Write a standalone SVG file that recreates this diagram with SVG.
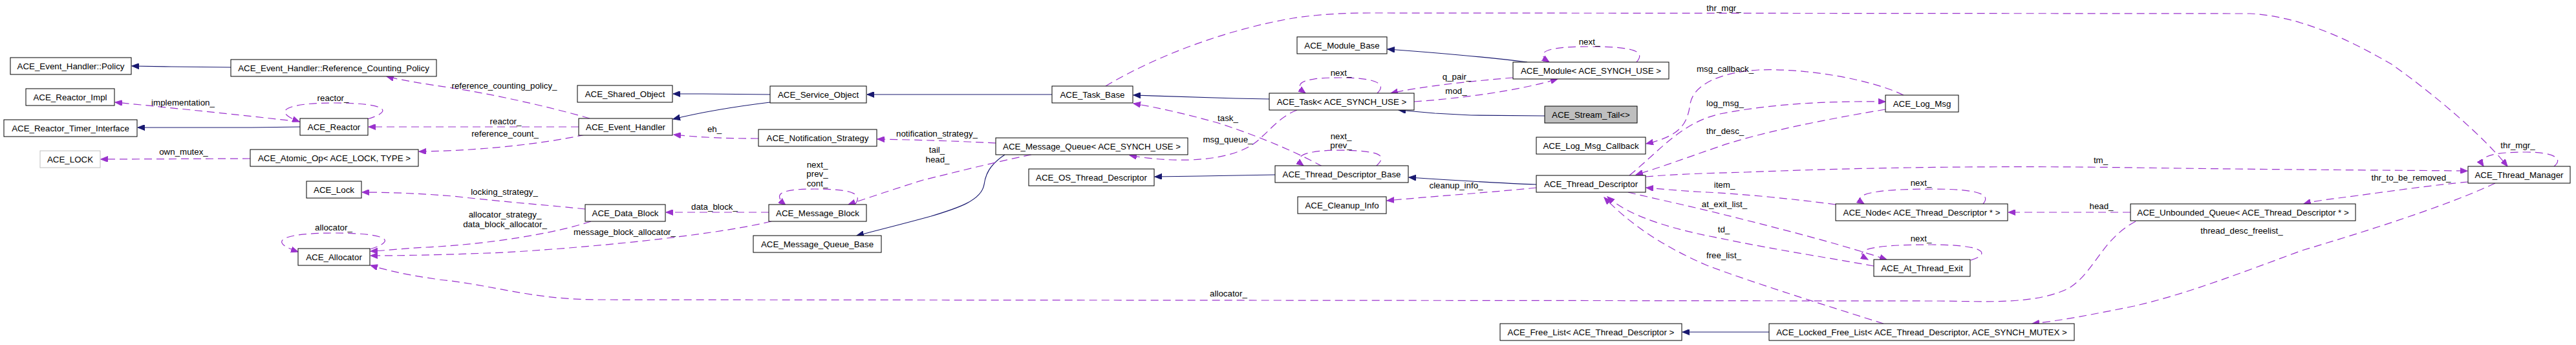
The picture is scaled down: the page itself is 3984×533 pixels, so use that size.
<svg xmlns="http://www.w3.org/2000/svg" width="3984" height="533" viewBox="0 0 3984 533">
<style>
text{font-family:"Liberation Sans",Arial,sans-serif;font-size:13.33px;fill:#000;text-anchor:middle}
.n rect{fill:#fff;stroke:#000;stroke-width:1}
.n.g rect{stroke:#bfbfbf}
.n.s rect{fill:#bfbfbf}
.inh{fill:none;stroke:#191970;stroke-width:1.2;marker-end:url(#ab)}
.use{fill:none;stroke:#9a32cd;stroke-width:1.2;stroke-dasharray:12,7;marker-end:url(#ap)}
</style>
<defs>
<marker id="ab" markerWidth="12" markerHeight="9" refX="11" refY="4.5" orient="auto" markerUnits="userSpaceOnUse"><path d="M0,0 L11,4.5 L0,9 z" fill="#191970" stroke="#191970" stroke-width="1" stroke-dasharray="none"/></marker>
<marker id="ap" markerWidth="12" markerHeight="9" refX="11" refY="4.5" orient="auto" markerUnits="userSpaceOnUse"><path d="M0,0 L11,4.5 L0,9 z" fill="#9a32cd" stroke="#9a32cd" stroke-width="1" stroke-dasharray="none"/></marker>
</defs>
<rect width="3984" height="533" fill="#fff"/>
<g id="edges">
<path class="inh" d="M357,104 L265,103 L204,102"/>
<path class="inh" d="M464,196 L389,197 L213,197"/>
<path class="inh" d="M1191,146 L1087,145 L1041,145"/>
<path class="inh" d="M1191,158 C1150,163 1090,172 1041,184"/>
<path class="inh" d="M1627,146 L1341,146"/>
<path class="inh" d="M1963,153 L1910,152 C1840,150 1790,148 1753,147"/>
<path class="inh" d="M1554,239 C1530,255 1524,270 1522,285 C1518,310 1480,322 1440,334 C1400,345 1360,355 1325,364"/>
<path class="inh" d="M1972,270 L1914,271 L1858,272 L1786,273"/>
<path class="inh" d="M2362,96 C2300,88 2200,80 2146,76"/>
<path class="inh" d="M2389,179 L2275,178 L2219,175 L2163,170"/>
<path class="inh" d="M2376,285 C2320,283 2240,278 2179,274"/>
<path class="inh" d="M2736,513 L2602,513"/>
<path class="use" d="M464,188 C420,183 300,170 178,158"/>
<path class="use" d="M568,184 C615,170 590,159 516,159 C450,159 415,170 463,188"/>
<path class="use" d="M895,196 L570,196"/>
<path class="use" d="M912,183 C850,165 760,145 700,136 C660,130 620,124 598,118"/>
<path class="use" d="M905,208 C860,218 760,233 648,234"/>
<path class="use" d="M387,245 L156,246"/>
<path class="use" d="M905,323 C860,318 790,313 700,303 C640,298 590,297 560,297"/>
<path class="use" d="M572,385 C615,372 600,360 516,360 C440,360 410,372 461,389"/>
<path class="use" d="M914,342 C860,360 760,377 660,382 C620,384 600,387 573,388"/>
<path class="use" d="M1193,342 C1120,360 950,380 780,390 C680,394 620,395 573,395"/>
<path class="use" d="M3303,342 C3250,370 3240,420 3200,445 C3150,470 3080,466 3000,465 L920,463 C820,462 760,440 680,432 C630,425 600,418 573,410"/>
<path class="use" d="M1189,328 L1030,328"/>
<path class="use" d="M1322,316 C1335,300 1320,292 1260,292 C1205,292 1195,300 1215,317"/>
<path class="use" d="M1173,214 C1120,214 1080,212 1042,208"/>
<path class="use" d="M2045,257 C2010,238 1960,215 1884,190 C1830,175 1790,166 1753,160"/>
<path class="use" d="M2128,257 C2140,245 2150,233 2074,232 C2010,232 2000,244 2016,256"/>
<path class="use" d="M1540,221 C1480,218 1420,216 1357,215"/>
<path class="use" d="M2006,170 C1980,180 1965,200 1953,210 C1935,230 1900,245 1840,247 C1800,248 1770,244 1747,240"/>
<path class="use" d="M1595,239 C1540,250 1470,268 1428,278 C1390,290 1350,303 1312,316"/>
<path class="use" d="M2531,96 C2545,80 2530,72 2458,72 C2385,72 2375,82 2396,96"/>
<path class="use" d="M2130,144 C2145,130 2130,120 2071,120 C2010,120 2000,130 2019,144"/>
<path class="use" d="M2340,120 C2280,125 2200,133 2151,144"/>
<path class="use" d="M2187,157 C2260,152 2350,140 2409,122"/>
<path class="use" d="M2944,147 C2900,125 2800,105 2720,108 C2660,112 2620,130 2614,160 C2610,190 2600,210 2546,222"/>
<path class="use" d="M2520,271 C2570,230 2600,190 2660,176 C2740,160 2830,156 2916,157"/>
<path class="use" d="M2916,169 C2820,185 2720,205 2657,227 C2610,243 2570,258 2530,270"/>
<path class="use" d="M1710,133 C1790,85 1900,45 2000,28 C2040,22 2080,20 2120,20 L3480,21 C3560,25 3640,65 3700,100 C3770,150 3840,210 3878,257"/>
<path class="use" d="M3950,257 C3965,245 3950,235 3907,235 C3860,235 3830,240 3841,257"/>
<path class="use" d="M2545,273 C2580,270 2620,268 2700,266 C2900,258 3100,256 3300,259 C3500,262 3700,263 3816,264"/>
<path class="use" d="M3817,281 C3770,285 3700,295 3647,302 C3610,307 3580,310 3563,315"/>
<path class="use" d="M3295,328 L3106,328"/>
<path class="use" d="M3067,315 C3080,300 3060,292 2987,292 C2900,292 2860,300 2883,315"/>
<path class="use" d="M2839,316 C2780,308 2700,300 2640,297 C2600,295 2570,292 2546,290"/>
<path class="use" d="M2518,297 C2560,307 2620,320 2660,330 C2740,350 2840,375 2918,401"/>
<path class="use" d="M2898,411 C2850,402 2740,385 2660,368 C2590,355 2520,335 2486,304"/>
<path class="use" d="M2913,500 C2850,480 2720,440 2640,410 C2570,380 2520,345 2481,305"/>
<path class="use" d="M3048,402 C3080,392 3070,378 2987,378 C2900,378 2860,385 2889,401"/>
<path class="use" d="M3859,283 C3780,320 3650,360 3560,387 C3470,420 3380,455 3300,473 C3240,485 3190,495 3143,500"/>
<path class="use" d="M2376,290 C2320,296 2220,303 2145,310"/>
<text x="283" y="163">implementation_</text>
<text x="515" y="156">reactor_</text>
<text x="284" y="239">own_mutex_</text>
<text x="516" y="356">allocator_</text>
<text x="780" y="137">reference_counting_policy_</text>
<text x="782" y="192">reactor_</text>
<text x="781" y="211">reference_count_</text>
<text x="1105" y="204">eh_</text>
<text x="780" y="301">locking_strategy_</text>
<text x="781" y="336">allocator_strategy_</text>
<text x="781" y="351">data_block_allocator_</text>
<text x="966" y="363">message_block_allocator_</text>
<text x="1105" y="324">data_block_</text>
<text x="1264" y="259">next_</text>
<text x="1264" y="273">prev_</text>
<text x="1264" y="288">cont_</text>
<text x="1449" y="211">notification_strategy_</text>
<text x="1449" y="236">tail_</text>
<text x="1450" y="251">head_</text>
<text x="1899" y="187">task_</text>
<text x="1899" y="220">msg_queue_</text>
<text x="1900" y="458">allocator_</text>
<text x="2666" y="17">thr_mgr_</text>
<text x="2458" y="69">next_</text>
<text x="2074" y="117">next_</text>
<text x="2253" y="123">q_pair_</text>
<text x="2252" y="145">mod_</text>
<text x="2074" y="215">next_</text>
<text x="2074" y="229">prev_</text>
<text x="2668" y="111">msg_callback_</text>
<text x="2668" y="164">log_msg_</text>
<text x="2668" y="207">thr_desc_</text>
<text x="3249" y="252">tm_</text>
<text x="2252" y="291">cleanup_info_</text>
<text x="2667" y="290">item_</text>
<text x="2667" y="320">at_exit_list_</text>
<text x="2666" y="359">td_</text>
<text x="2666" y="399">free_list_</text>
<text x="2971" y="287">next_</text>
<text x="2971" y="373">next_</text>
<text x="3250" y="323">head_</text>
<text x="3729" y="279">thr_to_be_removed_</text>
<text x="3467" y="361">thread_desc_freelist_</text>
<text x="3894" y="229">thr_mgr_</text>
</g>
<g id="n1" class="n"><rect x="16" y="89" width="187" height="26"/><text x="109.5" y="107">ACE_Event_Handler::Policy</text></g>
<g id="n2" class="n"><rect x="357" y="92" width="318" height="26"/><text x="516" y="110">ACE_Event_Handler::Reference_Counting_Policy</text></g>
<g id="n3" class="n"><rect x="40" y="137" width="137" height="26"/><text x="108.5" y="155">ACE_Reactor_Impl</text></g>
<g id="n4" class="n"><rect x="6" y="185" width="206" height="26"/><text x="109" y="203">ACE_Reactor_Timer_Interface</text></g>
<g id="n5" class="n"><rect x="464" y="183" width="105" height="26"/><text x="516.5" y="201">ACE_Reactor</text></g>
<g id="n6" class="n g"><rect x="62" y="233" width="93" height="26"/><text x="108.5" y="251">ACE_LOCK</text></g>
<g id="n7" class="n"><rect x="387" y="231" width="260" height="26"/><text x="517" y="249">ACE_Atomic_Op&lt; ACE_LOCK, TYPE &gt;</text></g>
<g id="n8" class="n"><rect x="474" y="280" width="85" height="26"/><text x="516.5" y="298">ACE_Lock</text></g>
<g id="n9" class="n"><rect x="461" y="384" width="111" height="26"/><text x="516.5" y="402">ACE_Allocator</text></g>
<g id="n10" class="n"><rect x="893" y="132" width="147" height="26"/><text x="966.5" y="150">ACE_Shared_Object</text></g>
<g id="n11" class="n"><rect x="1191" y="133" width="149" height="26"/><text x="1265.5" y="151">ACE_Service_Object</text></g>
<g id="n12" class="n"><rect x="895" y="183" width="145" height="26"/><text x="967.5" y="201">ACE_Event_Handler</text></g>
<g id="n13" class="n"><rect x="1173" y="200" width="183" height="26"/><text x="1264.5" y="218">ACE_Notification_Strategy</text></g>
<g id="n14" class="n"><rect x="905" y="316" width="124" height="26"/><text x="967" y="334">ACE_Data_Block</text></g>
<g id="n15" class="n"><rect x="1189" y="316" width="151" height="26"/><text x="1264.5" y="334">ACE_Message_Block</text></g>
<g id="n16" class="n"><rect x="1165" y="364" width="198" height="26"/><text x="1264" y="382">ACE_Message_Queue_Base</text></g>
<g id="n17" class="n"><rect x="1627" y="133" width="125" height="26"/><text x="1689.5" y="151">ACE_Task_Base</text></g>
<g id="n18" class="n"><rect x="1540" y="213" width="297" height="26"/><text x="1688.5" y="231">ACE_Message_Queue&lt; ACE_SYNCH_USE &gt;</text></g>
<g id="n19" class="n"><rect x="1591" y="261" width="194" height="26"/><text x="1688" y="279">ACE_OS_Thread_Descriptor</text></g>
<g id="n20" class="n"><rect x="2006" y="57" width="139" height="26"/><text x="2075.5" y="75">ACE_Module_Base</text></g>
<g id="n21" class="n"><rect x="2340" y="96" width="241" height="26"/><text x="2460.5" y="114">ACE_Module&lt; ACE_SYNCH_USE &gt;</text></g>
<g id="n22" class="n"><rect x="1963" y="144" width="224" height="26"/><text x="2075" y="162">ACE_Task&lt; ACE_SYNCH_USE &gt;</text></g>
<g id="n23" class="n s"><rect x="2389" y="164" width="143" height="26"/><text x="2460.5" y="182">ACE_Stream_Tail&lt;&gt;</text></g>
<g id="n24" class="n"><rect x="2376" y="212" width="169" height="26"/><text x="2460.5" y="230">ACE_Log_Msg_Callback</text></g>
<g id="n25" class="n"><rect x="1972" y="256" width="206" height="26"/><text x="2075" y="274">ACE_Thread_Descriptor_Base</text></g>
<g id="n26" class="n"><rect x="2376" y="271" width="169" height="26"/><text x="2460.5" y="289">ACE_Thread_Descriptor</text></g>
<g id="n27" class="n"><rect x="2007" y="304" width="137" height="26"/><text x="2075.5" y="322">ACE_Cleanup_Info</text></g>
<g id="n28" class="n"><rect x="2320" y="500" width="281" height="26"/><text x="2460.5" y="518">ACE_Free_List&lt; ACE_Thread_Descriptor &gt;</text></g>
<g id="n29" class="n"><rect x="2916" y="147" width="113" height="26"/><text x="2972.5" y="165">ACE_Log_Msg</text></g>
<g id="n30" class="n"><rect x="2839" y="315" width="266" height="26"/><text x="2972" y="333">ACE_Node&lt; ACE_Thread_Descriptor * &gt;</text></g>
<g id="n31" class="n"><rect x="2898" y="401" width="149" height="26"/><text x="2972.5" y="419">ACE_At_Thread_Exit</text></g>
<g id="n32" class="n"><rect x="2736" y="500" width="472" height="26"/><text x="2972" y="518">ACE_Locked_Free_List&lt; ACE_Thread_Descriptor, ACE_SYNCH_MUTEX &gt;</text></g>
<g id="n33" class="n"><rect x="3295" y="315" width="348" height="26"/><text x="3469" y="333">ACE_Unbounded_Queue&lt; ACE_Thread_Descriptor * &gt;</text></g>
<g id="n34" class="n"><rect x="3817" y="257" width="158" height="26"/><text x="3896" y="275">ACE_Thread_Manager</text></g>
</svg>
